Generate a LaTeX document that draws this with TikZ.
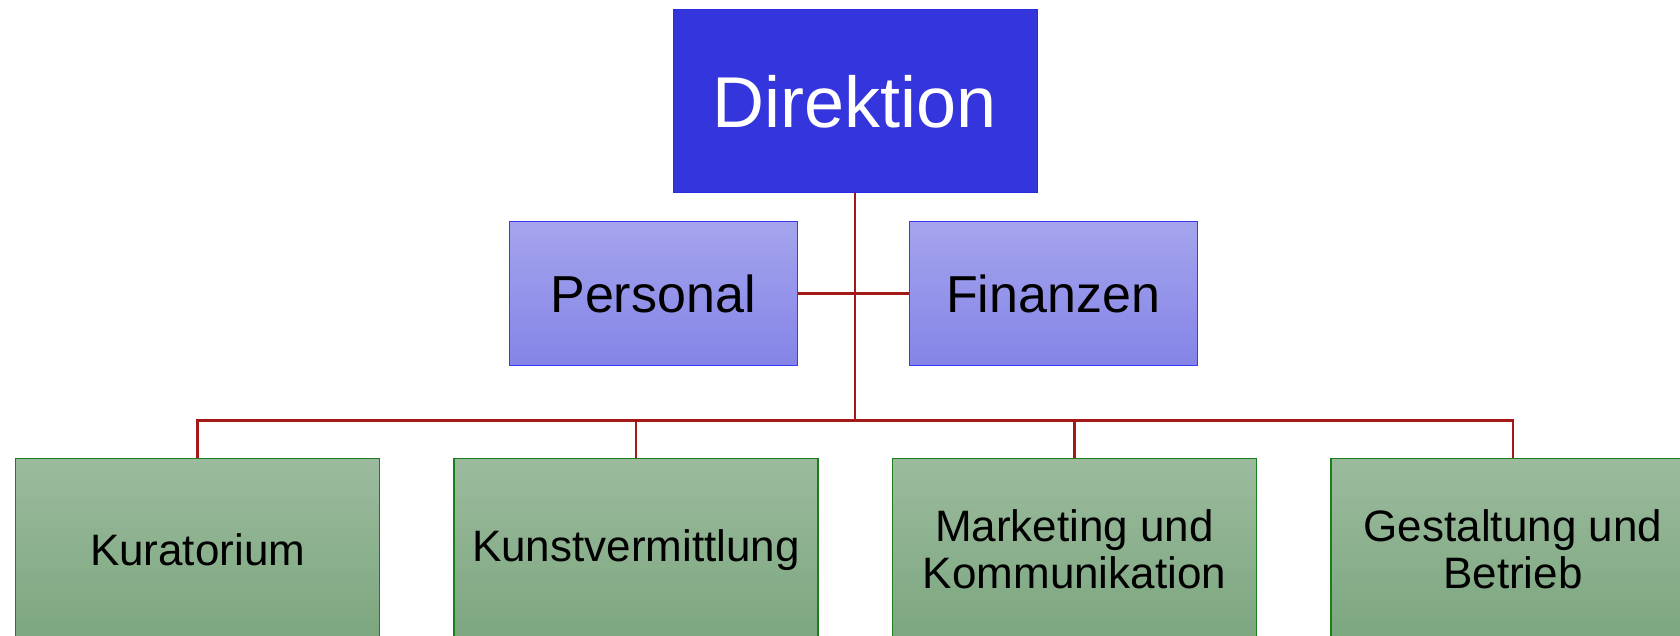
\documentclass[tikz,border=0pt]{standalone}
\usepackage{fontspec}
\setmainfont{Liberation Sans}
\usepackage{xcolor}
\usepackage{tikz}
\usetikzlibrary{positioning}

\definecolor{chefblau}{HTML}{3535DD}
\definecolor{stabhell}{HTML}{A4A4ED}
\definecolor{stabdunkel}{HTML}{8484E8}
\definecolor{stabrand}{HTML}{3A3AF2}
\definecolor{abthell}{HTML}{9CBB9E}
\definecolor{abtdunkel}{HTML}{7BA67E}
\definecolor{abtrand}{HTML}{1B7D1B}
\definecolor{linkrot}{HTML}{A41818}

\tikzset{
	chef/.style={draw=chefblau!80!blue, line width=0.5pt, fill=chefblau, text=white,
		minimum width=182pt, minimum height=91.5pt, font=\fontsize{36}{40}\selectfont},
	stab/.style={draw=stabrand, line width=0.5pt, top color=stabhell, bottom color=stabdunkel,
		minimum width=144pt, minimum height=71.5pt, font=\fontsize{26}{30}\selectfont},
	abt/.style={draw=abtrand, line width=0.7pt, top color=abthell, bottom color=abtdunkel,
		minimum width=182pt, minimum height=91.5pt, align=center, inner sep=1pt,
		font=\fontsize{22}{23.5}\selectfont},
	link/.style={draw=linkrot, line width=1.3pt},
}

\begin{document}
\begin{tikzpicture}
		\useasboundingbox (0,0) rectangle (840pt,-318pt);
		% Leitung und Stab
		\node[chef] (direktion) at (427.5pt,-50.75pt) {Direktion};
		\node[stab, below=14pt of direktion, xshift=-101pt] (personal) {Personal};
		\node[stab, below=14pt of direktion, xshift=99pt] (finanzen) {Finanzen};
		% Abteilungen
		\node[abt, below=132pt of direktion, xshift=-109.5pt] (kunst) {Kunstvermittlung};
		\node[abt, below=132pt of direktion, xshift=109.75pt] (marketing) {Marketing und\\Kommunikation};
		\node[abt, left=36.5pt of kunst] (kurator) {Kuratorium};
		\node[abt, right=36.5pt of marketing] (gestaltung) {Gestaltung und\\Betrieb};
		\path (kunst.north) ++(0,18.5pt) coordinate (busy);
		\coordinate (bus) at (busy -| direktion.south);
		\draw[link] (personal.east) -- (finanzen.west);
		\draw[link] (direktion.south) -- (bus);
		\foreach \abtname in {kurator,kunst,marketing,gestaltung}
			\draw[link] (bus) -| (\abtname.north);
	\end{tikzpicture}
\end{document}
